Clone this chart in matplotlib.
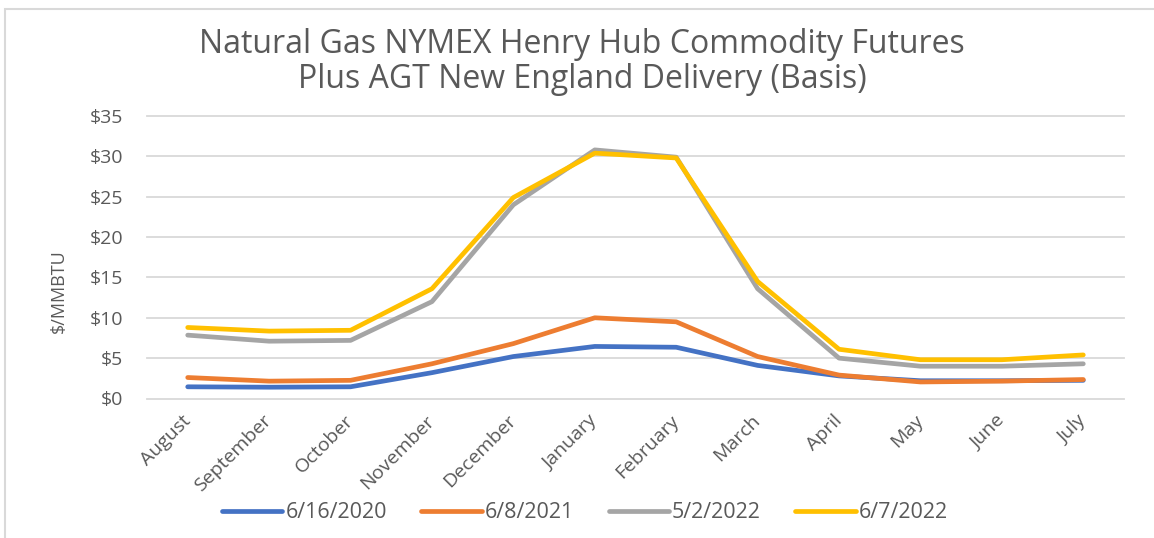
import numpy as np
import matplotlib
matplotlib.use('Agg')
from matplotlib import pyplot as plt
from matplotlib.patches import Rectangle

plt.rcParams['font.family'] = ['Open Sans', 'DejaVu Sans']

months = ['August', 'September', 'October', 'November', 'December', 'January',
          'February', 'March', 'April', 'May', 'June', 'July']

s_2020 = [1.45, 1.4, 1.45, 3.2, 5.2, 6.45, 6.35, 4.1, 2.8, 2.2, 2.2, 2.25]
s_2021 = [2.6, 2.15, 2.25, 4.3, 6.8, 10.0, 9.5, 5.2, 2.9, 2.05, 2.15, 2.35]
s_may22 = [7.85, 7.1, 7.2, 12.0, 24.0, 30.8, 29.9, 13.6, 5.0, 4.0, 4.0, 4.3]
s_jun22 = [8.8, 8.35, 8.45, 13.6, 24.9, 30.4, 29.8, 14.5, 6.1, 4.8, 4.8, 5.4]

labels = ['6/16/2020', '6/8/2021', '5/2/2022', '6/7/2022']
colors = ['#4472C4', '#ED7D31', '#A5A5A5', '#FFC000']
yticks = [0, 5, 10, 15, 20, 25, 30, 35]

txt = '#595959'
W, H = 1154, 538
fig = plt.figure(figsize=(W / 100, H / 100), dpi=100)
ax = fig.add_axes([147 / W, 1 - 398.5 / H, (1124 - 147) / W, (398.5 - 116) / H])

x = np.arange(len(months))
for ser, lab, c in zip([s_2020, s_2021, s_may22, s_jun22], labels, colors):
    ax.plot(x, ser, color=c, lw=3.4, label=lab, solid_capstyle='round', solid_joinstyle='round', zorder=3)

ax.set_xlim(-0.5, len(months) - 0.5)
ax.set_ylim(0, 35)
ax.set_yticks(yticks)
ax.set_yticklabels(['$' + str(v) for v in yticks])
ax.set_xticks(x)
ax.set_xticklabels(months, rotation=45, ha='right', va='center', rotation_mode='anchor')
ax.tick_params(length=0, labelsize=14, labelcolor=txt)
ax.tick_params(axis='x', pad=14)
ax.tick_params(axis='y', pad=17)
ax.grid(axis='y', color='#D9D9D9', lw=1.3)
for gl in ax.get_ygridlines():
    gl.set_clip_on(False)
for sp in ax.spines.values():
    sp.set_visible(False)

fig.text(59 / W, 1 - 291 / H, '$/MMBTU', rotation=90, ha='center', va='center',
         fontsize=13, color=txt)

fig.text(582 / W, 1 - 53 / H, 'Natural Gas NYMEX Henry Hub Commodity Futures',
         ha='center', va='baseline', fontsize=23, color=txt)
fig.text(582 / W, 1 - 88 / H, 'Plus AGT New England Delivery (Basis)',
         ha='center', va='baseline', fontsize=23, color=txt)

fig.legend(loc='center', bbox_to_anchor=(585 / W, 1 - 513 / H), ncol=4, frameon=False,
           fontsize=15.5, labelcolor=txt, handlelength=2.8, handletextpad=0.15,
           columnspacing=1.6)

fig.patches.append(Rectangle((5 / W, -0.1), 1.2, 1 - 9 / H + 0.1, transform=fig.transFigure,
                             fill=False, edgecolor='#D9D9D9', lw=1.5))

fig.savefig('out.png', dpi=100)
